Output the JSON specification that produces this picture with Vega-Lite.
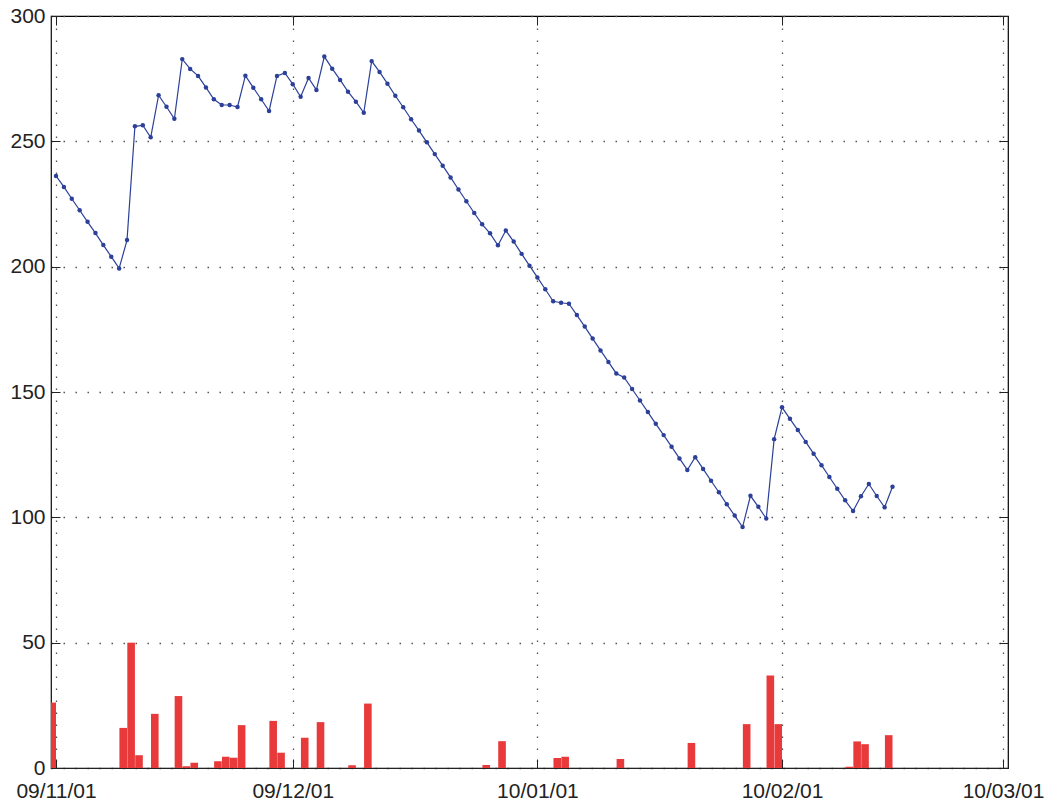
{
  "$schema": "https://vega.github.io/schema/vega-lite/v6.json",
  "width": 957,
  "height": 752,
  "autosize": "none",
  "padding": {"left": 51, "top": 16, "right": 43, "bottom": 34},
  "background": "white",
  "config": {
    "view": {"stroke": "black", "strokeWidth": 1.2},
    "axis": {
      "labelFont": "Liberation Sans",
      "labelFontSize": 21,
      "labelColor": "#222222",
      "tickColor": "#222222",
      "tickWidth": 1,
      "domainColor": "#222222",
      "gridColor": "#555555",
      "gridDash": [1.5, 10.5],
      "gridWidth": 1.3,
      "gridOpacity": 1,
      "labelFlush": false,
      "labelOverlap": false,
      "labelBound": false,
      "title": null
    }
  },
  "datasets": {
    "level": [
      {"date": "2009-11-01", "level": 236.2},
      {"date": "2009-11-02", "level": 231.8},
      {"date": "2009-11-03", "level": 227.1},
      {"date": "2009-11-04", "level": 222.5},
      {"date": "2009-11-05", "level": 217.9},
      {"date": "2009-11-06", "level": 213.4},
      {"date": "2009-11-07", "level": 208.6},
      {"date": "2009-11-08", "level": 204.0},
      {"date": "2009-11-09", "level": 199.3},
      {"date": "2009-11-10", "level": 210.6},
      {"date": "2009-11-11", "level": 256.0},
      {"date": "2009-11-12", "level": 256.4},
      {"date": "2009-11-13", "level": 251.6},
      {"date": "2009-11-14", "level": 268.4},
      {"date": "2009-11-15", "level": 263.8},
      {"date": "2009-11-16", "level": 259.0},
      {"date": "2009-11-17", "level": 282.8},
      {"date": "2009-11-18", "level": 278.9},
      {"date": "2009-11-19", "level": 276.1},
      {"date": "2009-11-20", "level": 271.5},
      {"date": "2009-11-21", "level": 266.8},
      {"date": "2009-11-22", "level": 264.5},
      {"date": "2009-11-23", "level": 264.5},
      {"date": "2009-11-24", "level": 263.7},
      {"date": "2009-11-25", "level": 276.2},
      {"date": "2009-11-26", "level": 271.4},
      {"date": "2009-11-27", "level": 266.8},
      {"date": "2009-11-28", "level": 262.1},
      {"date": "2009-11-29", "level": 276.1},
      {"date": "2009-11-30", "level": 277.3},
      {"date": "2009-12-01", "level": 272.8},
      {"date": "2009-12-02", "level": 267.8},
      {"date": "2009-12-03", "level": 275.3},
      {"date": "2009-12-04", "level": 270.5},
      {"date": "2009-12-05", "level": 283.8},
      {"date": "2009-12-06", "level": 279.0},
      {"date": "2009-12-07", "level": 274.5},
      {"date": "2009-12-08", "level": 269.8},
      {"date": "2009-12-09", "level": 265.8},
      {"date": "2009-12-10", "level": 261.4},
      {"date": "2009-12-11", "level": 282.0},
      {"date": "2009-12-12", "level": 277.7},
      {"date": "2009-12-13", "level": 273.0},
      {"date": "2009-12-14", "level": 268.2},
      {"date": "2009-12-15", "level": 263.6},
      {"date": "2009-12-16", "level": 258.8},
      {"date": "2009-12-17", "level": 254.3},
      {"date": "2009-12-18", "level": 249.6},
      {"date": "2009-12-19", "level": 244.9},
      {"date": "2009-12-20", "level": 240.3},
      {"date": "2009-12-21", "level": 235.6},
      {"date": "2009-12-22", "level": 230.8},
      {"date": "2009-12-23", "level": 226.1},
      {"date": "2009-12-24", "level": 221.4},
      {"date": "2009-12-25", "level": 216.9},
      {"date": "2009-12-26", "level": 213.3},
      {"date": "2009-12-27", "level": 208.5},
      {"date": "2009-12-28", "level": 214.4},
      {"date": "2009-12-29", "level": 210.0},
      {"date": "2009-12-30", "level": 205.1},
      {"date": "2009-12-31", "level": 200.4},
      {"date": "2010-01-01", "level": 195.7},
      {"date": "2010-01-02", "level": 191.0},
      {"date": "2010-01-03", "level": 186.2},
      {"date": "2010-01-04", "level": 185.6},
      {"date": "2010-01-05", "level": 185.2},
      {"date": "2010-01-06", "level": 180.7},
      {"date": "2010-01-07", "level": 176.1},
      {"date": "2010-01-08", "level": 171.3},
      {"date": "2010-01-09", "level": 166.6},
      {"date": "2010-01-10", "level": 162.0},
      {"date": "2010-01-11", "level": 157.4},
      {"date": "2010-01-12", "level": 155.8},
      {"date": "2010-01-13", "level": 151.2},
      {"date": "2010-01-14", "level": 146.6},
      {"date": "2010-01-15", "level": 142.0},
      {"date": "2010-01-16", "level": 137.3},
      {"date": "2010-01-17", "level": 132.8},
      {"date": "2010-01-18", "level": 128.2},
      {"date": "2010-01-19", "level": 123.5},
      {"date": "2010-01-20", "level": 118.9},
      {"date": "2010-01-21", "level": 124.0},
      {"date": "2010-01-22", "level": 119.3},
      {"date": "2010-01-23", "level": 114.6},
      {"date": "2010-01-24", "level": 110.0},
      {"date": "2010-01-25", "level": 105.2},
      {"date": "2010-01-26", "level": 100.7},
      {"date": "2010-01-27", "level": 96.1},
      {"date": "2010-01-28", "level": 108.6},
      {"date": "2010-01-29", "level": 104.2},
      {"date": "2010-01-30", "level": 99.5},
      {"date": "2010-01-31", "level": 131.2},
      {"date": "2010-02-01", "level": 143.9},
      {"date": "2010-02-02", "level": 139.3},
      {"date": "2010-02-03", "level": 134.8},
      {"date": "2010-02-04", "level": 130.1},
      {"date": "2010-02-05", "level": 125.4},
      {"date": "2010-02-06", "level": 120.8},
      {"date": "2010-02-07", "level": 116.1},
      {"date": "2010-02-08", "level": 111.4},
      {"date": "2010-02-09", "level": 106.8},
      {"date": "2010-02-10", "level": 102.5},
      {"date": "2010-02-11", "level": 108.4},
      {"date": "2010-02-12", "level": 113.3},
      {"date": "2010-02-13", "level": 108.5},
      {"date": "2010-02-14", "level": 104.0},
      {"date": "2010-02-15", "level": 112.2}
    ],
    "refill": [
      {"date": "2009-11-01", "added": 26.1},
      {"date": "2009-11-10", "added": 16.0},
      {"date": "2009-11-11", "added": 50.0},
      {"date": "2009-11-12", "added": 5.1},
      {"date": "2009-11-14", "added": 21.6},
      {"date": "2009-11-17", "added": 28.7},
      {"date": "2009-11-18", "added": 0.7},
      {"date": "2009-11-19", "added": 2.1},
      {"date": "2009-11-22", "added": 2.7},
      {"date": "2009-11-23", "added": 4.5},
      {"date": "2009-11-24", "added": 4.1},
      {"date": "2009-11-25", "added": 17.1},
      {"date": "2009-11-29", "added": 18.8},
      {"date": "2009-11-30", "added": 6.1},
      {"date": "2009-12-03", "added": 12.1},
      {"date": "2009-12-05", "added": 18.3},
      {"date": "2009-12-09", "added": 1.1},
      {"date": "2009-12-11", "added": 25.7},
      {"date": "2009-12-26", "added": 1.2},
      {"date": "2009-12-28", "added": 10.7},
      {"date": "2010-01-04", "added": 4.0},
      {"date": "2010-01-05", "added": 4.5},
      {"date": "2010-01-12", "added": 3.6},
      {"date": "2010-01-21", "added": 10.0},
      {"date": "2010-01-28", "added": 17.5},
      {"date": "2010-01-31", "added": 36.9},
      {"date": "2010-02-01", "added": 17.5},
      {"date": "2010-02-10", "added": 0.5},
      {"date": "2010-02-11", "added": 10.6},
      {"date": "2010-02-12", "added": 9.5},
      {"date": "2010-02-15", "added": 13.1}
    ]
  },
  "layer": [
    {
      "data": {"name": "refill"},
      "mark": {"type": "bar", "color": "#e8393b", "width": 7.6, "xOffset": -3.8, "clip": true},
      "encoding": {
        "x": {
          "field": "date",
          "type": "temporal",
          "scale": {"type": "utc", "domain": [{"year": 2009, "month": 11, "date": 1, "utc": true}, {"year": 2010, "month": 3, "date": 1, "utc": true}]},
          "axis": {
            "orient": "top",
            "labels": false,
            "grid": false,
            "domain": false,
            "tickSize": -9,
            "values": [
              {"year": 2009, "month": 11, "date": 1, "utc": true},
              {"year": 2009, "month": 12, "date": 1, "utc": true},
              {"year": 2010, "month": 1, "date": 1, "utc": true},
              {"year": 2010, "month": 2, "date": 1, "utc": true},
              {"year": 2010, "month": 3, "date": 1, "utc": true}
            ]
          }
        },
        "y": {
          "field": "added",
          "type": "quantitative",
          "scale": {"domain": [0, 300], "nice": false},
          "axis": {"orient": "right", "labels": false, "grid": false, "domain": false, "tickSize": -9, "values": [0, 50, 100, 150, 200, 250, 300]}
        }
      }
    },
    {
      "data": {"name": "level"},
      "mark": {"type": "line", "color": "#2c4099", "strokeWidth": 1.2, "point": {"filled": true, "size": 20, "color": "#2c4099"}},
      "encoding": {
        "x": {
          "field": "date",
          "type": "temporal",
          "scale": {"type": "utc", "domain": [{"year": 2009, "month": 11, "date": 1, "utc": true}, {"year": 2010, "month": 3, "date": 1, "utc": true}]},
          "axis": {
            "orient": "bottom",
            "grid": true,
            "tickSize": -9,
            "labelPadding": 21,
            "labelExpr": "utcFormat(datum.value, '%y/%m/%d')",
            "values": [
              {"year": 2009, "month": 11, "date": 1, "utc": true},
              {"year": 2009, "month": 12, "date": 1, "utc": true},
              {"year": 2010, "month": 1, "date": 1, "utc": true},
              {"year": 2010, "month": 2, "date": 1, "utc": true},
              {"year": 2010, "month": 3, "date": 1, "utc": true}
            ]
          }
        },
        "y": {
          "field": "level",
          "type": "quantitative",
          "scale": {"domain": [0, 300], "nice": false},
          "axis": {"orient": "left", "grid": true, "tickSize": -9, "labelPadding": 15, "values": [0, 50, 100, 150, 200, 250, 300]}
        }
      }
    }
  ],
  "resolve": {"axis": {"x": "independent", "y": "independent"}}
}
